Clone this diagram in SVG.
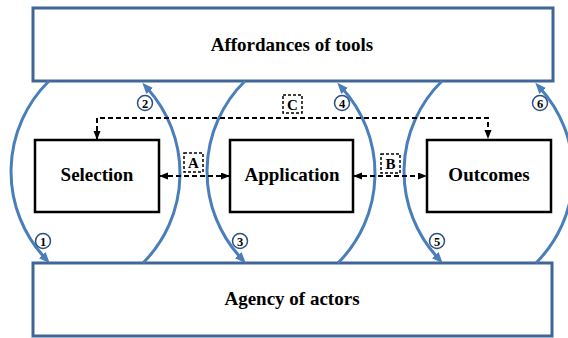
<svg xmlns="http://www.w3.org/2000/svg" width="568" height="338" viewBox="0 0 568 338">
  <style>
    .frame { fill: #ffffff; stroke: #3f6697; stroke-width: 3; }
    .step { fill: #ffffff; stroke: #000000; stroke-width: 2.5; }
    .title { font-family: "Liberation Serif", "Times New Roman", serif; font-weight: bold; font-size: 19px; fill: #000000; text-anchor: middle; }
    .cycle { fill: none; stroke: #4a7ebb; stroke-width: 3; marker-end: url(#blueHead); }
    .link { fill: none; stroke: #000000; stroke-width: 2; stroke-dasharray: 5 3; marker-start: url(#blackHead); marker-end: url(#blackHead); }
    .tag { fill: #ffffff; stroke: #000000; stroke-width: 1.5; stroke-dasharray: 3 2; }
    .tagText { font-family: "Liberation Serif", "Times New Roman", serif; font-weight: bold; font-size: 15px; fill: #000000; text-anchor: middle; }
    .badge { fill: #ffffff; stroke: #2c4f82; stroke-width: 1.5; }
    .badgeText { font-family: "Liberation Serif", "Times New Roman", serif; font-weight: bold; font-size: 12.5px; fill: #000000; text-anchor: middle; }
  </style>
  <defs>
    <marker id="blueHead" markerUnits="userSpaceOnUse" markerWidth="12" markerHeight="10" refX="4" refY="4.5" orient="auto">
      <path d="M0,0 L11,4.5 L0,9 z" fill="#4a7ebb"/>
    </marker>
    <marker id="blackHead" markerUnits="userSpaceOnUse" markerWidth="10" markerHeight="8" refX="8" refY="3.5" orient="auto-start-reverse">
      <path d="M0,0 L9,3.5 L0,7 z" fill="#000000"/>
    </marker>
  </defs>

  <rect width="568" height="338" fill="#ffffff"/>

  <!-- outer frames -->
  <g id="affordances">
    <rect class="frame" x="33" y="8" width="520" height="73"/>
    <text class="title" x="292" y="51">Affordances of tools</text>
  </g>
  <g id="agency">
    <rect class="frame" x="33" y="263" width="519" height="73"/>
    <text class="title" x="292" y="305">Agency of actors</text>
  </g>

  <!-- process steps -->
  <g id="selection">
    <rect class="step" x="35" y="140" width="124" height="72"/>
    <text class="title" x="97" y="181">Selection</text>
  </g>
  <g id="application">
    <rect class="step" x="230" y="140" width="123" height="72"/>
    <text class="title" x="292" y="181">Application</text>
  </g>
  <g id="outcomes">
    <rect class="step" x="427" y="140" width="124" height="72"/>
    <text class="title" x="489" y="181">Outcomes</text>
  </g>

  <!-- connectors -->
  <g id="connectors">
    <!-- cycles between tools and actors -->
    <path class="cycle" d="M49,81 A127,127 0 0 0 45,258"/>
    <path class="cycle" d="M143,263 A127,127 0 0 0 147,88"/>
    <path class="cycle" d="M245,81 A127,127 0 0 0 241,258"/>
    <path class="cycle" d="M338,263 A127,127 0 0 0 342,88"/>
    <path class="cycle" d="M442,81 A127,127 0 0 0 438,258"/>
    <path class="cycle" d="M536,263 A127,127 0 0 0 540,88"/>

    <!-- dashed links between steps -->
    <path class="link" d="M160,176 H229"/>
    <path class="link" d="M354,176 H426"/>
    <path class="link" d="M97,139 V118 H488 V138"/>
  </g>

  <!-- link tags -->
  <g id="tag-a">
    <rect class="tag" x="184" y="153" width="19" height="19"/>
    <text class="tagText" x="193.5" y="168">A</text>
  </g>
  <g id="tag-b">
    <rect class="tag" x="381" y="154" width="19" height="19"/>
    <text class="tagText" x="390.5" y="169">B</text>
  </g>
  <g id="tag-c">
    <rect class="tag" x="283" y="95" width="19" height="18"/>
    <text class="tagText" x="292.5" y="109.5">C</text>
  </g>

  <!-- numbered badges -->
  <g id="badge-1"><circle class="badge" cx="43" cy="241" r="7.5"/><text class="badgeText" x="43" y="245.5">1</text></g>
  <g id="badge-2"><circle class="badge" cx="145" cy="103" r="7.5"/><text class="badgeText" x="145" y="107.5">2</text></g>
  <g id="badge-3"><circle class="badge" cx="240" cy="241" r="7.5"/><text class="badgeText" x="240" y="245.5">3</text></g>
  <g id="badge-4"><circle class="badge" cx="342" cy="103" r="7.5"/><text class="badgeText" x="342" y="107.5">4</text></g>
  <g id="badge-5"><circle class="badge" cx="437" cy="241" r="7.5"/><text class="badgeText" x="437" y="245.5">5</text></g>
  <g id="badge-6"><circle class="badge" cx="540" cy="103" r="7.5"/><text class="badgeText" x="540" y="107.5">6</text></g>
</svg>
